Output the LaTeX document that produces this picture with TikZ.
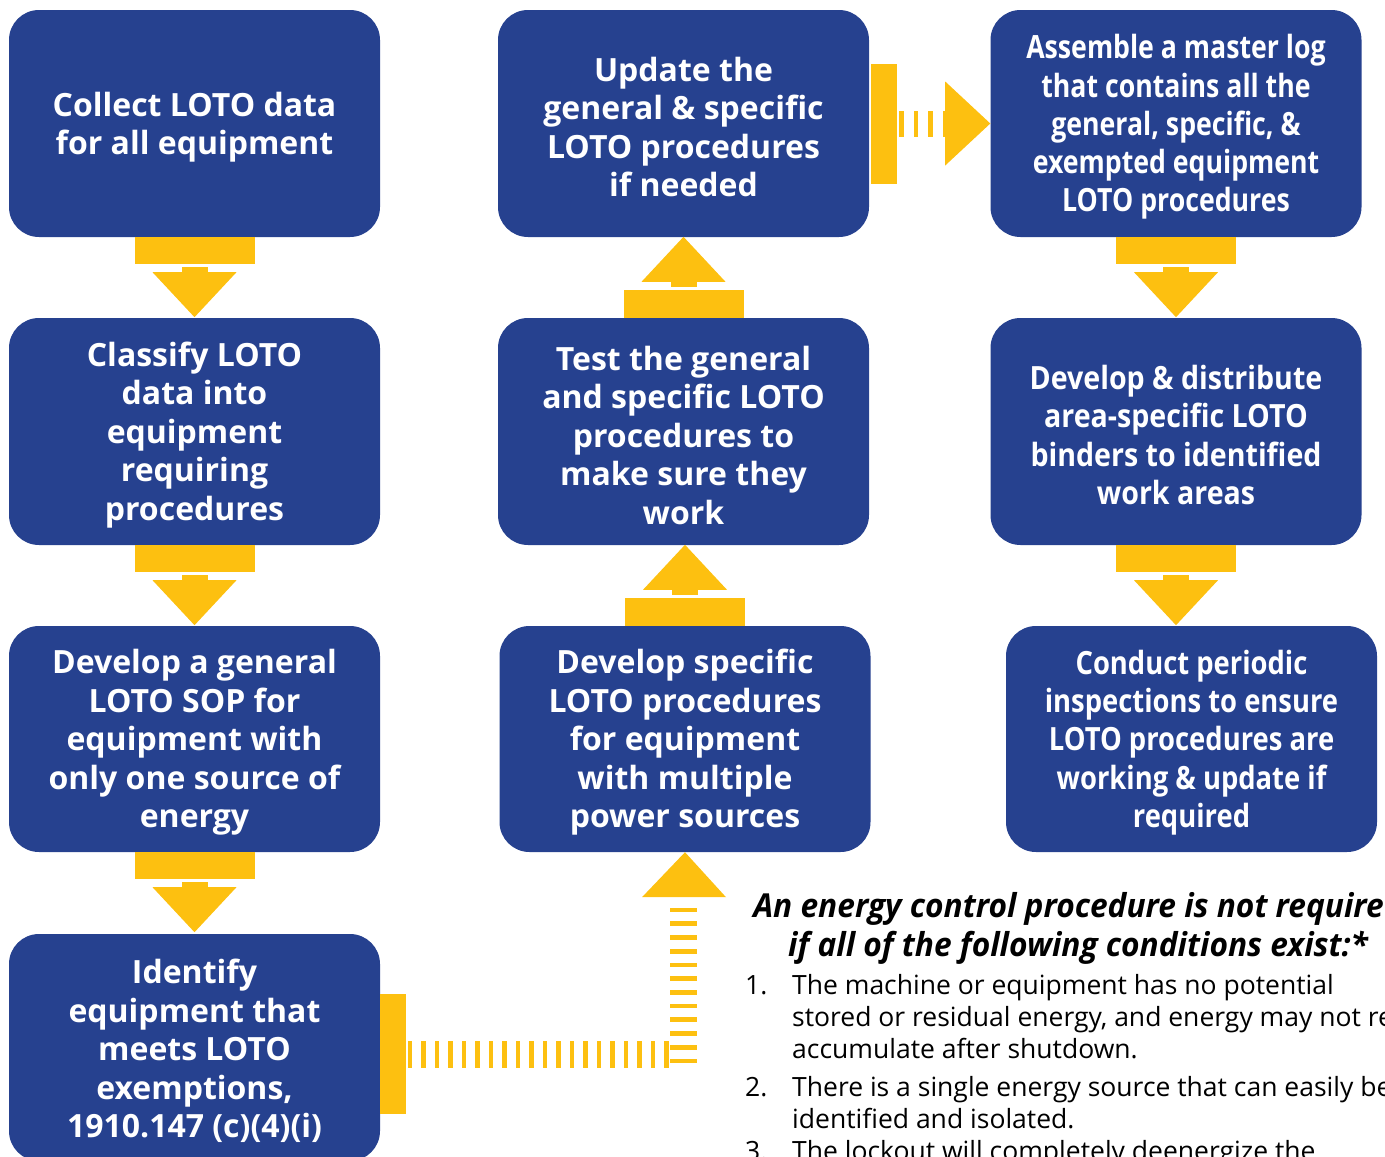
\documentclass[tikz,border=0pt]{standalone}
\usepackage{fontspec}
\setmainfont{Open Sans}
\newfontfamily\condfa{Open Sans}[FakeStretch=0.834]
\newfontfamily\condfb{Open Sans}[FakeStretch=0.893]
\newfontfamily\condfc{Open Sans}[FakeStretch=0.856]
\newfontfamily\headf{Open Sans}[FakeStretch=0.96]
\usetikzlibrary{calc}
\definecolor{bblue}{RGB}{38,65,143}
\definecolor{yel}{RGB}{253,192,16}
\tikzset{
  box/.style={fill=bblue, rounded corners=30pt, minimum width=371pt, minimum height=227pt, inner sep=0pt},
  btxt/.style={align=center, text=white, inner sep=0pt, font=\fontsize{32}{38.5}\selectfont\bfseries},
  ctxta/.style={btxt, font=\condfa\fontsize{32}{38.3}\selectfont\bfseries},
  ctxtb/.style={btxt, font=\condfb\fontsize{32}{38.3}\selectfont\bfseries},
  ctxtc/.style={btxt, font=\condfc\fontsize{32}{38.3}\selectfont\bfseries},
  ytip/.style={fill=yel},
  hline/.style={anchor=base, inner sep=0pt, font=\headf\fontsize{33}{39}\selectfont\bfseries\itshape},
  lline/.style={anchor=base west, inner sep=0pt, font=\fontsize{26.5}{32}\selectfont},
}
% box with its text lowered slightly
\newcommand\boxnode[5][]{%
  \node[box,#1] (#3) at #4 {};
  \node[#2, yshift=-3.5pt] (#3t) at (#3.center) {#5};}
\newcommand\dnarrow[1]{%
  \fill[ytip] ($(#1.south)+(-60,0)$) rectangle ++(120,27);
  \fill[ytip] ($(#1.south)+(-13,30)$) rectangle ++(26,6);
  \fill[ytip] ($(#1.south)+(-42,35)$) -- ++(84,0) -- ($(#1.south)+(0,80)$) -- cycle;}
\newcommand\uparr[1]{%
  \fill[ytip] ($(#1.north)+(-60,0)$) rectangle ++(120,-28);
  \fill[ytip] ($(#1.north)+(-13,-31)$) rectangle ++(26,-6);
  \fill[ytip] ($(#1.north)+(-42,-36)$) -- ++(84,0) -- ($(#1.north)+(0,-81)$) -- cycle;}
\begin{document}
\begin{tikzpicture}[x=1pt,y=-1pt]
\useasboundingbox (0,0) rectangle (1385,1157);
\clip (0,0) rectangle (1385,1157);
% column 1
\boxnode{btxt}{a1}{(194.5,123.5)}{Collect LOTO data\\for all equipment}
\boxnode{btxt}{a2}{(194.5,431.5)}{Classify LOTO\\data into\\equipment\\requiring\\procedures}
\boxnode[minimum height=226pt]{btxt}{a3}{(194.5,739)}{Develop a general\\LOTO SOP for\\equipment with\\only one source of\\energy}
\boxnode{btxt}{a4}{(194.5,1047.5)}{Identify\\equipment that\\meets LOTO\\exemptions,\\1910.147 (c)(4)(i)}
% column 2
\boxnode{btxt}{b1}{(683.5,123.5)}{Update the\\general \& specific\\LOTO procedures\\if needed}
\boxnode{btxt}{b2}{(683.5,431.5)}{Test the general\\and specific LOTO\\procedures to\\make sure they\\work}
\boxnode[minimum height=226pt]{btxt}{b3}{(685,739)}{Develop specific\\LOTO procedures\\for equipment\\with multiple\\power sources}
% column 3
\boxnode{ctxta}{c1}{(1176,123.5)}{Assemble a master log\\that contains all the\\general, specific, \&\\exempted equipment\\LOTO procedures}
\boxnode{ctxtb}{c2}{(1176,431.5)}{Develop \& distribute\\area-specific LOTO\\binders to identified\\work areas}
\boxnode[minimum height=226pt]{ctxtc}{c3}{(1191.5,739)}{Conduct periodic\\inspections to ensure\\LOTO procedures are\\working \& update if\\required}
% block arrows
\dnarrow{a1}
\dnarrow{a2}
\dnarrow{a3}
\uparr{b2}
\uparr{b3}
\dnarrow{c1}
\dnarrow{c2}
% dashed right arrow b1 -> c1
\fill[ytip] ($(b1.east)+(2,-60)$) rectangle ++(26,120);
\foreach \i in {0,...,3}{
  \fill[ytip] ($(b1.east)+(30+14.5*\i,-13)$) rectangle ++(4.6,26);}
\fill[ytip] ($(b1.east)+(76,-42)$) -- ++(0,84) -- (c1.west) -- cycle;
% dashed bent arrow a4 -> b3
\coordinate (bend) at (683.5,1054.5);
\fill[ytip] ($(a4.east)+(0,-53.5)$) rectangle ++(26,120);
\foreach \i in {0,...,19}{
  \fill[ytip] ($(a4.east)+(27.3+13.5*\i,-6.5)$) rectangle ++(4.7,27);}
\foreach \i in {0,...,11}{
  \fill[ytip] ($(bend)+(-13.5,6.5-13.73*\i-2.35)$) rectangle ++(27,4.7);}
\fill[ytip] ($(b3.south)+(-43,45)$) -- ++(84,0) -- (b3.south) -- cycle;
% note text
\node[hline] (h1) at (1078,917) {An energy control procedure is not required};
\node[hline] (h2) at (1078,956) {if all of the following conditions exist:*};
\node[lline] (n1) at (745,994) {1.};
\node[lline] (t1a) at (792,994) {The machine or equipment has no potential};
\node[lline] (t1b) at (792,1026) {stored or residual energy, and energy may not re-};
\node[lline] (t1c) at (792,1058) {accumulate after shutdown.};
\node[lline] (n2) at (745,1096) {2.};
\node[lline] (t2a) at (792,1096) {There is a single energy source that can easily be};
\node[lline] (t2b) at (792,1128) {identified and isolated.};
\node[lline] (n3) at (745,1160) {3.};
\node[lline] (t3a) at (792,1160) {The lockout will completely deenergize the};
\end{tikzpicture}
\end{document}
